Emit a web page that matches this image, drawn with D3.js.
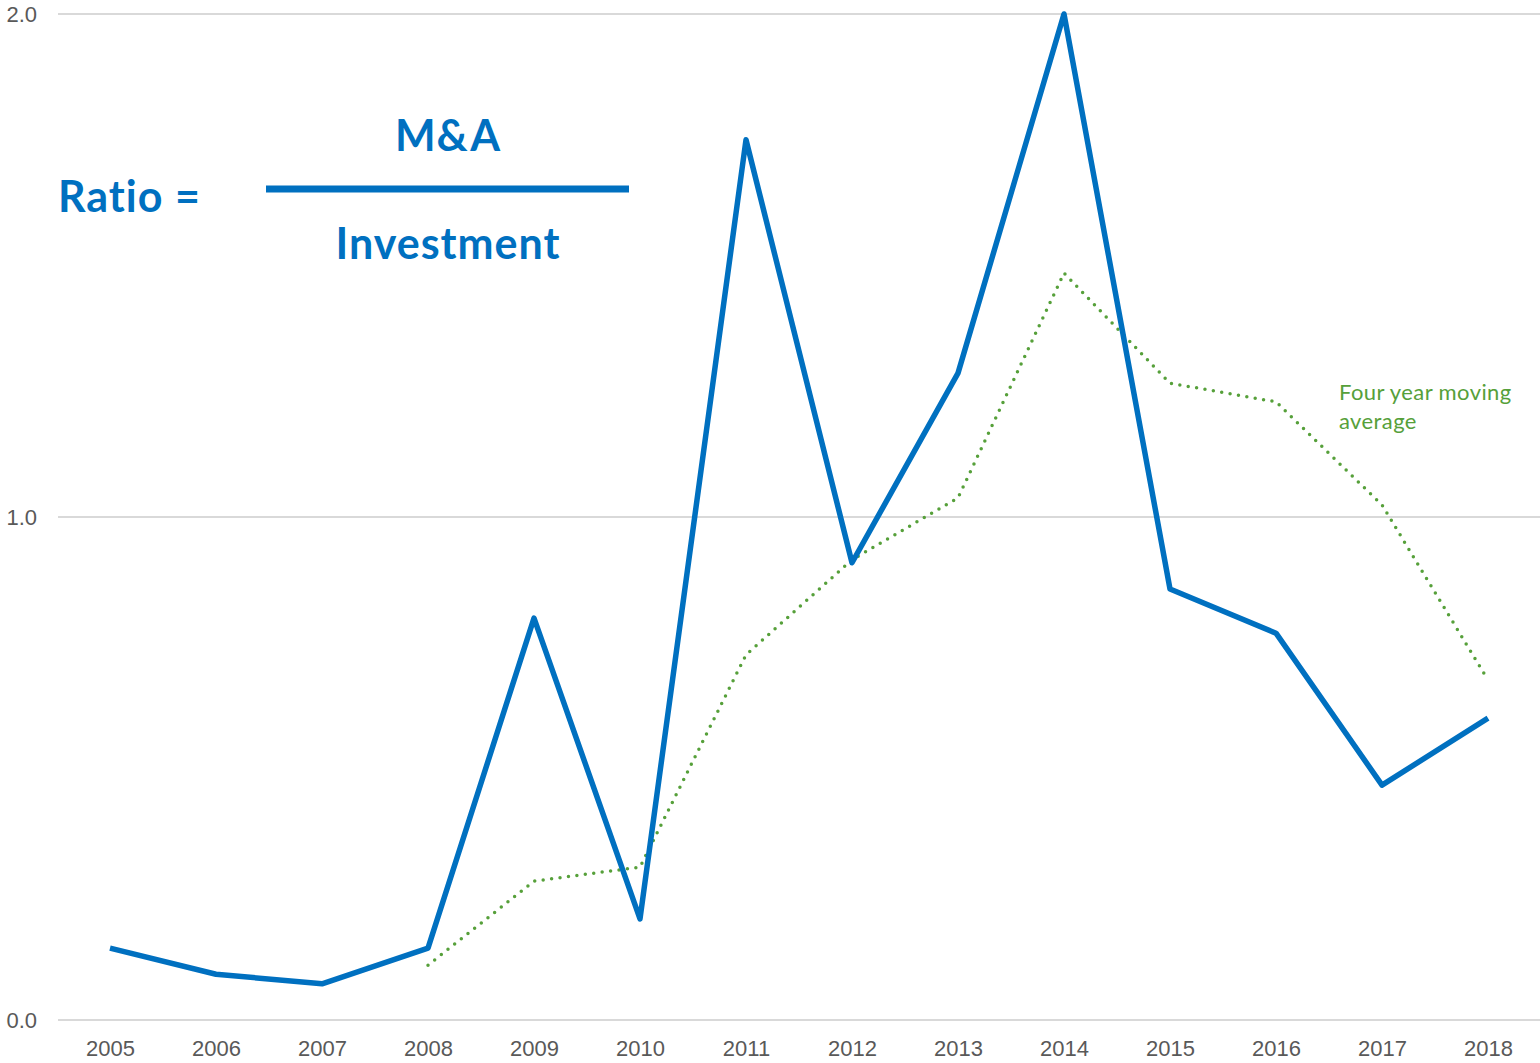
<!DOCTYPE html>
<html>
<head>
<meta charset="utf-8">
<script src="https://cdn.jsdelivr.net/npm/d3@7"></script>
<style>
    body { margin: 0; background: #fff; }
    #chart { width: 1540px; height: 1063px; }
    text { font-variant-ligatures: none; }
</style>
</head>
<body>
<div id="chart"></div>
<script>
// data
let years = [2005, 2006, 2007, 2008, 2009, 2010, 2011, 2012, 2013, 2014, 2015, 2016, 2017, 2018];
let ratio = [0.143, 0.091, 0.072, 0.143, 0.799, 0.201, 1.75, 0.909, 1.286, 2.0, 0.857, 0.769, 0.467, 0.600];
let movingAvgYears = [2008, 2009, 2010, 2011, 2012, 2013, 2014, 2015, 2016, 2017, 2018];
let movingAvg = [0.109, 0.276, 0.304, 0.726, 0.915, 1.038, 1.485, 1.266, 1.229, 1.024, 0.676];
let yTicks = [0, 1, 2];

let width = 1540, height = 1063;
let margin = {top: 14, right: 0, bottom: 43, left: 58};

let svg = d3.select("#chart").append("svg")
    .attr("width", width)
    .attr("height", height);

// scales
let x = d3.scalePoint()
    .domain(years)
    .range([110, 1488]);

let y = d3.scaleLinear()
    .domain([0, 2])
    .range([height - margin.bottom, margin.top]);

// gridlines
svg.append("g")
    .selectAll("line")
    .data(yTicks)
    .enter().append("line")
    .attr("x1", margin.left)
    .attr("x2", width)
    .attr("y1", d => y(d))
    .attr("y2", d => y(d))
    .attr("stroke", "#d9d9d9")
    .attr("stroke-width", 2);

// y axis labels
let yAxis = d3.axisLeft(y).tickValues(yTicks).tickFormat(d3.format(".1f")).tickSize(0).tickPadding(0);
svg.append("g")
    .attr("transform", "translate(37,0)")
    .call(yAxis)
    .attr("font-family", "Liberation Sans, Arial, sans-serif")
    .attr("font-size", 22)
    .call(g => g.select(".domain").remove())
    .selectAll("text")
    .attr("fill", "#595959")
    .attr("dy", "0.35em");

// x axis labels
let xAxis = d3.axisBottom(x).tickSize(0).tickPadding(0);
svg.append("g")
    .attr("transform", `translate(0,${y(0)})`)
    .call(xAxis)
    .attr("font-family", "Liberation Sans, Arial, sans-serif")
    .attr("font-size", 22)
    .call(g => g.select(".domain").remove())
    .selectAll("text")
    .attr("fill", "#595959")
    .attr("dy", "1.65em");

// moving average (dotted)
let avgLine = d3.line()
    .x((d, i) => x(movingAvgYears[i]))
    .y(d => y(d));

svg.append("path")
    .datum(movingAvg)
    .attr("d", avgLine)
    .attr("fill", "none")
    .attr("stroke", "#56a03a")
    .attr("stroke-width", 3.5)
    .attr("stroke-linecap", "round")
    .attr("stroke-linejoin", "round")
    .attr("stroke-dasharray", "0 8.5");

// ratio line
let ratioLine = d3.line()
    .x((d, i) => x(years[i]))
    .y(d => y(d));

svg.append("path")
    .datum(ratio)
    .attr("d", ratioLine)
    .attr("fill", "none")
    .attr("stroke", "#0070c0")
    .attr("stroke-width", 5.5)
    .attr("stroke-linejoin", "round");

// formula
let blue = "#0070c0";
function formulaText(tx, ty, anchor, str) {
    svg.append("text")
        .attr("x", tx).attr("y", ty)
        .attr("text-anchor", anchor)
        .attr("font-family", "Lato, sans-serif")
        .attr("font-weight", "bold")
        .attr("font-size", 43)
        .attr("letter-spacing", 1)
        .attr("fill", blue)
        .text(str);
}
formulaText(58, 212, "start", "Ratio =");
formulaText(448, 151, "middle", "M&A");
formulaText(448, 259, "middle", "Investment");

svg.append("line")
    .attr("x1", 266).attr("x2", 629)
    .attr("y1", 189).attr("y2", 189)
    .attr("stroke", blue)
    .attr("stroke-width", 7);

// annotation
let note = svg.append("text")
    .attr("font-family", "Lato, sans-serif")
    .attr("font-size", 22)
    .attr("letter-spacing", 0.4)
    .attr("fill", "#56a03a");
note.append("tspan").attr("x", 1339).attr("y", 400).text("Four year moving");
note.append("tspan").attr("x", 1339).attr("y", 429).text("average");
</script>
</body>
</html>
